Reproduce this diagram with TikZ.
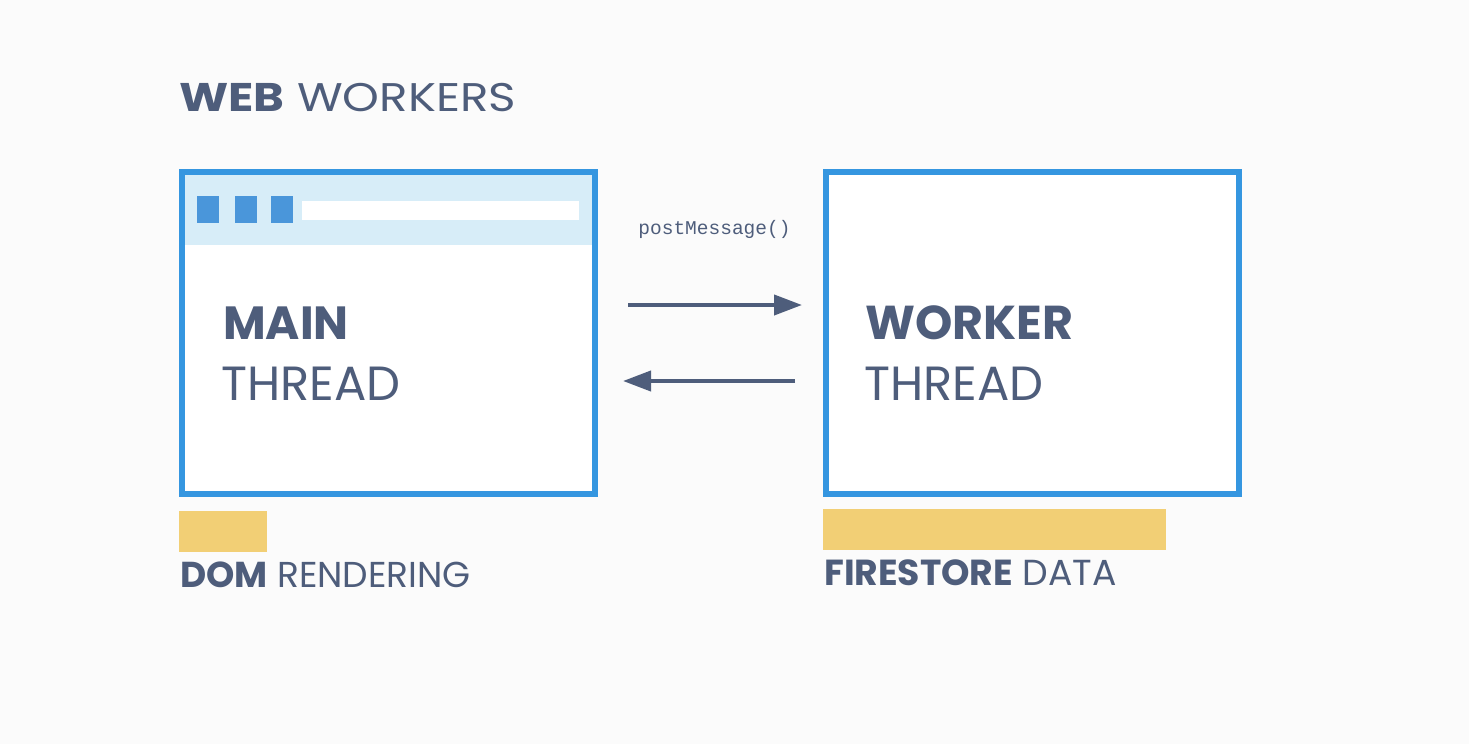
\documentclass[tikz,border=0pt]{standalone}
\usepackage{fontspec}
\setmainfont{Poppins}
\newfontfamily\titlefont{Poppins}[FakeStretch=1.17]
\setmonofont{Liberation Mono}
\usetikzlibrary{arrows.meta}
\definecolor{bg}{HTML}{FBFBFB}
\definecolor{bord}{HTML}{3596E0}
\definecolor{hdr}{HTML}{D7EDF8}
\definecolor{sq}{HTML}{4A96DA}
\definecolor{txt}{HTML}{4E5D7B}
\definecolor{yel}{HTML}{F2CF75}
\tikzset{
  win/.style={draw=bord, line width=6pt, fill=white, minimum width=413pt, minimum height=321.5pt, inner sep=0pt},
  lbl/.style={anchor=base west, inner sep=0pt, text=txt},
  arr/.style={draw=txt, line width=4pt, -{Triangle[length=28pt,width=20pt]}},
}
\begin{document}
\begin{tikzpicture}[x=1pt,y=-1pt]
\fill[bg] (0,0) rectangle (1469,744);
\useasboundingbox (0,0) rectangle (1469,744);
% title
\node[lbl, font=\titlefont\fontsize{40}{44}\selectfont] (title) at (179,111) {\textbf{WEB} WORKERS};
% windows
\node[win] (main) at (388.5,332.75) {};
\node[win] (worker) at (1032.5,332.75) {};
% header of main window
\fill[hdr] (185,175) rectangle (592,245);
\fill[sq] (197,196) rectangle (219,223);
\fill[sq] (235,196) rectangle (257,223);
\fill[sq] (271,196) rectangle (293,223);
\fill[white] (302,201) rectangle (579,220);
% window texts
\node[lbl, font=\fontsize{46.5}{50}\selectfont] (mainb) at (223,339) {\textbf{MAIN}};
\node[lbl, font=\fontsize{48}{50}\selectfont] (maint) at (221,400) {THREAD};
\node[lbl, font=\fontsize{47.5}{50}\selectfont] (workb) at (865,339) {\textbf{WORKER}};
\node[lbl, font=\fontsize{48}{50}\selectfont] (workt) at (864,400) {THREAD};
% arrows
\coordinate (a1s) at (628,305);
\coordinate (a1e) at (802,305);
\coordinate (a2s) at (795,381);
\coordinate (a2e) at (623,381);
\draw[arr] (a1s) -- (a1e);
\draw[arr] (a2s) -- (a2e);
\node[inner sep=0pt, anchor=base, text=txt, font=\ttfamily\fontsize{19.5}{22}\selectfont] (pm) at (714.5,234) {postMessage()};
% yellow bars
\fill[yel] (179,511) rectangle (267,552);
\fill[yel] (823,509) rectangle (1166,550);
\node[lbl, font=\fontsize{36}{38}\selectfont] (dom) at (180,587) {\textbf{DOM} RENDERING};
\node[lbl, font=\fontsize{36.2}{38}\selectfont] (fire) at (824,585) {\textbf{FIRESTORE} DATA};
\end{tikzpicture}
\end{document}
